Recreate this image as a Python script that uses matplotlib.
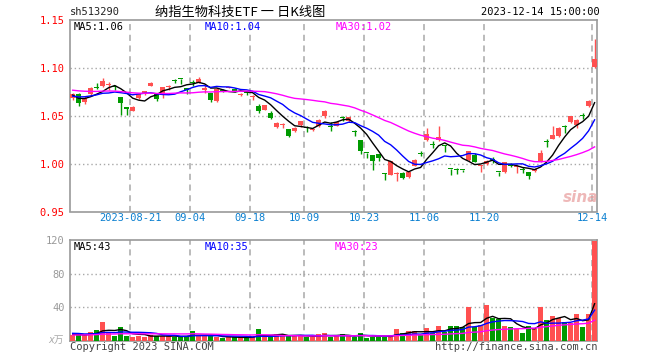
import matplotlib
matplotlib.use("Agg")
import matplotlib.pyplot as plt
import numpy as np
import pandas as pd

# daily bars 2023-08-07 .. 2023-12-14
open_ = [1.0688, 1.0729, 1.0639, 1.0722, 1.0797, 1.0813, 1.0822, 1.0804, 1.0698, 1.0594,
         1.0550, 1.0688, 1.0722, 1.0813, 1.0736, 1.0716, 1.0798, 1.0865, 1.0884, 1.0782,
         1.0846, 1.0847, 1.0774, 1.0733, 1.0653, 1.0772, 1.0793, 1.0784, 1.0720, 1.0750,
         1.0697, 1.0600, 1.0559, 1.0524, 1.0378, 1.0406, 1.0361, 1.0344, 1.0403, 1.0378,
         1.0352, 1.0396, 1.0493, 1.0385, 1.0396, 1.0475, 1.0441, 1.0333, 1.0250, 1.0115,
         1.0094, 1.0104, 0.9899, 0.9885, 0.9888, 0.9903, 0.9860, 0.9980, 1.0106, 1.0243,
         1.0200, 1.0243, 1.0190, 0.9948, 0.9938, 0.9932, 1.0035, 1.0094, 0.9970, 0.9995,
         1.0038, 0.9912, 0.9910, 1.0000, 0.9962, 0.9940, 0.9910, 0.9920, 1.0024, 1.0224,
         1.0257, 1.0285, 1.0384, 1.0430, 1.0406, 1.0495, 1.0597, 1.1014]
high = [1.0735, 1.0735, 1.0705, 1.0805, 1.0847, 1.0895, 1.0853, 1.0820, 1.0698, 1.0594,
        1.0597, 1.0725, 1.0760, 1.0855, 1.0736, 1.0805, 1.0825, 1.0880, 1.0884, 1.0782,
        1.0870, 1.0905, 1.0836, 1.0733, 1.0795, 1.0775, 1.0805, 1.0785, 1.0740, 1.0752,
        1.0715, 1.0620, 1.0615, 1.0548, 1.0430, 1.0425, 1.0361, 1.0378, 1.0448, 1.0396,
        1.0375, 1.0465, 1.0556, 1.0430, 1.0440, 1.0496, 1.0490, 1.0354, 1.0250, 1.0115,
        1.0094, 1.0104, 0.9899, 1.0028, 0.9910, 0.9910, 0.9915, 1.0045, 1.0135, 1.0372,
        1.0233, 1.0389, 1.0198, 0.9948, 0.9950, 0.9935, 1.0135, 1.0110, 0.9985, 1.0035,
        1.0068, 0.9912, 1.0018, 1.0005, 0.9970, 0.9960, 0.9910, 0.9950, 1.0139, 1.0257,
        1.0396, 1.0378, 1.0406, 1.0496, 1.0465, 1.0524, 1.0660, 1.1300]
low = [1.0660, 1.0600, 1.0625, 1.0705, 1.0775, 1.0805, 1.0765, 1.0765, 1.0510, 1.0510,
       1.0545, 1.0680, 1.0715, 1.0810, 1.0655, 1.0690, 1.0765, 1.0845, 1.0836, 1.0726,
       1.0815, 1.0845, 1.0733, 1.0640, 1.0648, 1.0745, 1.0785, 1.0745, 1.0710, 1.0720,
       1.0665, 1.0525, 1.0555, 1.0465, 1.0372, 1.0368, 1.0278, 1.0326, 1.0382, 1.0330,
       1.0340, 1.0382, 1.0476, 1.0340, 1.0392, 1.0450, 1.0438, 1.0285, 1.0097, 1.0059,
       0.9937, 1.0024, 0.9830, 0.9880, 0.9816, 0.9835, 0.9855, 0.9975, 1.0080, 1.0233,
       1.0163, 1.0240, 1.0125, 0.9885, 0.9895, 0.9915, 1.0024, 1.0012, 0.9915, 0.9990,
       1.0005, 0.9875, 0.9905, 0.9965, 0.9905, 0.9905, 0.9840, 0.9915, 1.0020, 1.0173,
       1.0254, 1.0282, 1.0323, 1.0427, 1.0372, 1.0462, 1.0594, 1.0997]
close = [1.0726, 1.0628, 1.0688, 1.0792, 1.0792, 1.0868, 1.0826, 1.0800, 1.0628, 1.0570,
         1.0594, 1.0722, 1.0757, 1.0847, 1.0674, 1.0800, 1.0802, 1.0861, 1.0880, 1.0774,
         1.0842, 1.0889, 1.0778, 1.0663, 1.0778, 1.0750, 1.0797, 1.0750, 1.0724, 1.0733,
         1.0701, 1.0549, 1.0611, 1.0480, 1.0427, 1.0410, 1.0285, 1.0375, 1.0444, 1.0375,
         1.0356, 1.0451, 1.0545, 1.0382, 1.0438, 1.0472, 1.0486, 1.0330, 1.0128, 1.0111,
         1.0024, 1.0059, 0.9896, 1.0024, 0.9892, 0.9851, 0.9910, 1.0042, 1.0104, 1.0313,
         1.0198, 1.0278, 1.0188, 0.9944, 0.9934, 0.9930, 1.0128, 1.0014, 0.9974, 1.0030,
         1.0035, 0.9910, 1.0014, 0.9972, 0.9966, 0.9936, 0.9868, 0.9944, 1.0111, 1.0222,
         1.0302, 1.0372, 1.0382, 1.0493, 1.0451, 1.0493, 1.0656, 1.1090]
# volume, 万手
volume = [6.8, 6.4, 6.8, 10.4, 12.8, 22.4, 9.6, 5.6, 16.4, 5.6,
          4.4, 6.0, 4.4, 7.2, 5.2, 5.2, 5.2, 4.8, 4.8, 5.6,
          11.6, 5.6, 5.6, 5.6, 4.8, 3.2, 4.0, 4.0, 4.0, 4.0,
          4.0, 14.0, 4.8, 4.8, 7.6, 7.2, 6.0, 5.6, 5.6, 4.4,
          4.8, 7.6, 8.8, 4.4, 5.6, 7.6, 5.6, 4.8, 9.2, 3.6,
          4.8, 4.8, 4.8, 6.8, 14.4, 9.2, 11.6, 11.6, 6.4, 15.2,
          8.8, 17.6, 10.8, 17.6, 17.6, 16.0, 40.4, 16.0, 18.4, 42.8,
          27.6, 26.4, 17.6, 16.4, 13.6, 9.2, 17.6, 13.6, 40.4, 24.8,
          29.6, 26.8, 22.4, 21.6, 32.0, 16.4, 32.0, 118.4]

# the 29 sessions before the window are off the chart; estimated so the
# moving averages start where the chart shows them
closes_before = [1.0835, 1.0812, 1.0846, 1.0790, 1.0768, 1.0803, 1.0825, 1.0781, 1.0756, 1.0794,
                 1.0830, 1.0808, 1.0772, 1.0785, 1.0819, 1.0797, 1.0760, 1.0788, 1.0815, 1.0776,
                 1.0712, 1.0668, 1.0705, 1.0681, 1.0704, 1.0798, 1.0698, 1.0697, 1.0661]
volume_before = [5.2, 6.4, 4.8, 7.0, 5.6, 6.2, 4.4, 5.8, 6.6, 5.0,
                 7.4, 5.4, 6.0, 4.6, 5.8, 6.8, 5.2, 6.2, 5.6, 6.0,
                 8.4, 12.6, 9.2, 11.0, 8.8, 7.4, 9.6, 6.6, 7.6]

holidays = ['2023-09-29', '2023-10-02', '2023-10-03', '2023-10-04', '2023-10-05', '2023-10-06']
dates = pd.bdate_range('2023-08-07', '2023-12-14', freq='C', holidays=holidays)
tick_dates = ['2023-08-21', '2023-09-04', '2023-09-18', '2023-10-09',
              '2023-10-23', '2023-11-06', '2023-11-20', '2023-12-14']

RED = '#ff5050'
GREEN = '#009a00'
GRID = '#a8a8a8'
MONO = 'DejaVu Sans Mono'

o = np.array(open_); h = np.array(high); l = np.array(low); c = np.array(close)
v = np.array(volume)
x = np.arange(len(c))
n0 = len(closes_before)

def ma(vals, before, n):
    s = pd.Series(list(before) + list(vals)).rolling(n).mean().to_numpy()
    return s[len(before):]

pma5, pma10, pma30 = ma(c, closes_before, 5), ma(c, closes_before, 10), ma(c, closes_before, 30)
vma5, vma10, vma30 = ma(v, volume_before, 5), ma(v, volume_before, 10), ma(v, volume_before, 30)

up = c >= o
cols = np.where(up, RED, GREEN)

fig = plt.figure(figsize=(6.6, 3.6), dpi=100)

def px_axes(left, top, right, bottom):
    return fig.add_axes([left / 660, 1 - bottom / 360, (right - left) / 660, (bottom - top) / 360])

def ftext(px, py, s, **kw):
    fig.text(px / 660, 1 - py / 360, s, **kw)

ax = px_axes(70.3, 20, 597, 211.5)
axv = px_axes(70.3, 240, 597, 340.7)

tick_idx = [dates.get_loc(pd.Timestamp(d)) for d in tick_dates]
tick_lab = [tick_dates[0]] + [d[5:] for d in tick_dates[1:]]
grid_x = np.array(tick_idx) - 0.4

for a in (ax, axv):
    a.set_xlim(-0.4, len(c) - 0.6)
    a.set_axisbelow(True)
    for sp in a.spines.values():
        sp.set_color('#999999')
        sp.set_linewidth(1.2)
    for gx in grid_x:
        a.axvline(gx, color=GRID, lw=1.1, ls=(0, (4, 3)), zorder=0)
    a.tick_params(length=0)

# candles
body_lo = np.minimum(o, c)
body_h = np.maximum(np.abs(c - o), 0.0011)
ax.vlines(x, l, h, colors=cols, lw=1, zorder=2)
ax.bar(x, body_h, bottom=body_lo, width=0.78, color=cols, lw=0, zorder=3)
ax.plot(x, pma5, color='black', lw=1, zorder=4)
ax.plot(x, pma10, color='#0000ff', lw=1, zorder=4)
ax.plot(x, pma30, color='#ff00ff', lw=1, zorder=4)
ax.set_ylim(0.95, 1.15)
ax.set_yticks([0.95, 1.00, 1.05, 1.10, 1.15])
ax.set_yticklabels(['0.95', '1.00', '1.05', '1.10', '1.15'], color='red', family=MONO, fontsize=7.5)
for yv in [1.00, 1.05, 1.10]:
    ax.axhline(yv, color=GRID, lw=1, ls=(0, (1, 2)), zorder=0)
ax.set_xticks(grid_x)
ax.set_xticklabels(tick_lab, color='#0a7fd0', family=MONO, fontsize=7.5)
ax.tick_params(axis='x', pad=1)
ax.tick_params(axis='y', pad=4)

# volume
axv.bar(x, v, width=0.78, color=cols, lw=0, zorder=3)
axv.plot(x, vma5, color='black', lw=1, zorder=4)
axv.plot(x, vma10, color='#0000ff', lw=1, zorder=4)
axv.plot(x, vma30, color='#ff00ff', lw=1, zorder=4)
axv.set_ylim(0, 120)
axv.set_yticks([40, 80, 120])
axv.set_yticklabels(['40', '80', '120'], color='#999999', family=MONO, fontsize=7.5)
axv.tick_params(axis='y', pad=4)
axv.set_xticks([])
for yv in [40, 80]:
    axv.axhline(yv, color=GRID, lw=1, ls=(0, (1, 2)), zorder=0)

# header and labels
ftext(70, 12, 'sh513290', family=MONO, fontsize=7.5, va='center', color='#222222')
ftext(240, 12, '纳指生物科技ETF 一 日K线图', family=['Noto Sans CJK SC', 'DejaVu Sans'],
      fontsize=9.5, ha='center', va='center', color='black')
ftext(600, 12, '2023-12-14 15:00:00', family=MONO, fontsize=7.5, ha='right', va='center', color='black')
ftext(74, 27, 'MA5:1.06', family=MONO, fontsize=7.5, va='center', color='black')
ftext(205, 27, 'MA10:1.04', family=MONO, fontsize=7.5, va='center', color='#0000ff')
ftext(336, 27, 'MA30:1.02', family=MONO, fontsize=7.5, va='center', color='#ff00ff')
ftext(74, 247, 'MA5:43', family=MONO, fontsize=7.5, va='center', color='black')
ftext(205, 247, 'MA10:35', family=MONO, fontsize=7.5, va='center', color='#0000ff')
ftext(335, 247, 'MA30:23', family=MONO, fontsize=7.5, va='center', color='#ff00ff')
ftext(64, 340, 'x万', family=['DejaVu Sans', 'Noto Sans CJK SC'], fontsize=7, ha='right',
      va='center', color='#aaaaaa', style='italic')
ftext(70, 347, 'Copyright 2023 SINA.COM', family=MONO, fontsize=7.5, va='center', color='#444444')
ftext(597, 347, 'http://finance.sina.com.cn', family=MONO, fontsize=7.5, ha='right', va='center', color='#444444')
ftext(581, 197, 'sina', fontsize=11, weight='bold', style='italic', ha='center', va='center',
      color='#e89a9a', alpha=0.7)

fig.savefig('out.png', dpi=100)
